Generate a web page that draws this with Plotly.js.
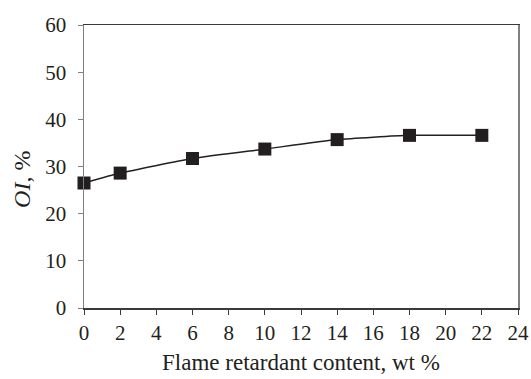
<!DOCTYPE html>
<html>
<head>
<meta charset="utf-8">
<script src="https://cdn.plot.ly/plotly-3.0.1.min.js"></script>
<style>html,body{margin:0;padding:0;background:#fff;}#chart{width:531px;height:379px;}</style>
</head>
<body>
<div id="chart"></div>
<script>
const content = [0, 2, 6, 10, 14, 18, 22];
const oi = [26.5, 28.6, 31.7, 33.7, 35.7, 36.6, 36.6];
const xTicks = [0, 2, 4, 6, 8, 10, 12, 14, 16, 18, 20, 22, 24];
const yTicks = [0, 10, 20, 30, 40, 50, 60];
const xTitle = 'Flame retardant content, wt %';
const yTitle = '<i>OI</i>, %';

const trace = {
  x: content, y: oi, type: 'scatter', mode: 'lines+markers',
  line: {shape: 'spline', smoothing: 0.5, color: '#231f20', width: 1.5},
  marker: {symbol: 'square', size: 13, color: '#231f20'},
  cliponaxis: false
};
const layout = {
  width: 531, height: 379,
  margin: {l: 84, r: 13, t: 25, b: 71},
  paper_bgcolor: '#fff', plot_bgcolor: '#fff',
  font: {family: 'Liberation Serif', size: 21, color: '#231f20'},
  showlegend: false,
  xaxis: {
    range: [0, 24], tickvals: xTicks, ticktext: xTicks.map(String),
    showgrid: false, zeroline: false,
    showline: true, linecolor: '#3a3a3a', linewidth: 1.5, mirror: true,
    ticks: 'outside', ticklen: 5, tickcolor: '#3a3a3a',
    ticklabelstandoff: 0,
    title: {text: xTitle, font: {family: 'Liberation Serif', size: 23}, standoff: 10}
  },
  yaxis: {
    range: [0, 60], tickvals: yTicks, ticktext: yTicks.map(String),
    showgrid: false, zeroline: false,
    showline: true, linecolor: '#808080', linewidth: 1.5, mirror: true,
    ticks: 'outside', ticklen: 5, tickcolor: '#808080',
    ticklabelstandoff: 7
  },
  annotations: [{
    text: yTitle, textangle: -90, showarrow: false,
    xref: 'paper', yref: 'paper', x: -0.143, y: 0.456,
    xanchor: 'center', yanchor: 'middle',
    font: {family: 'Liberation Serif', size: 24, color: '#231f20'}
  }]
};
Plotly.newPlot('chart', [trace], layout, {displayModeBar: false, staticPlot: true});
</script>
</body>
</html>
